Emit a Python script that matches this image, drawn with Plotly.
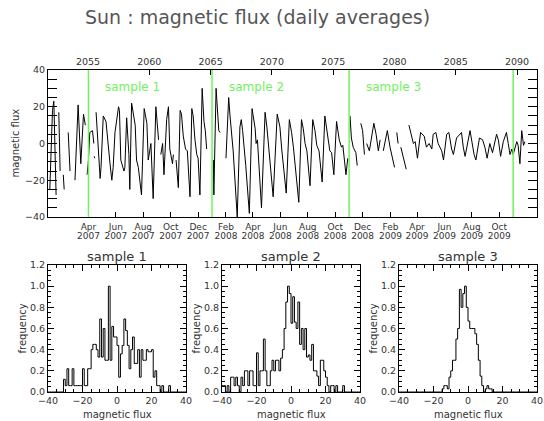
import plotly.graph_objects as go
import pandas as pd

# ---------------- data ----------------
series_start = "2007-01-01"
# days since series_start, and daily-averaged magnetic flux (None = data gap)
day_offsets = [4, 10, 13, 18, 19, 24, 27, 28, 34, 36, 37, 45, 49, 50,
               60, 67, 73, 75, 79, 83, 84, 87, 90, 93, 99, 102, 102, 103, 104, 105,
               107, 114, 116, 118, 123, 129, 132, 138, 142, 145, 149, 157, 159, 162,
               169, 171, 175, 180, 182, 186, 194, 197, 201, 208, 214, 220, 223, 229,
               234, 240, 246, 247, 251, 255, 258, 264, 268, 271, 277, 279, 281, 285, 290,
               294, 297, 301, 306, 310, 316, 320, 323, 327, 331, 334, 338, 343, 347,
               350, 353, 354, 368, 369, 374, 377, 380, 383, 384, 396, 402, 405, 409,
               412, 421, 427, 430, 433, 440, 448, 454, 461, 463, 466, 475, 483, 487,
               492, 501, 510, 516, 520, 530, 537, 542, 546, 558, 564, 568, 572, 576,
               583, 589, 594, 598, 603, 610, 616, 622, 627, 631, 636, 642, 648, 653,
               656, 663, 667, 668, 672, 675, 679, 685, 688, 689, 696, 700, 704, 705,
               709, 715, 725, 730, 735, 739, 740, 746, 750, 755, 761, 767, 771, 772,
               776, 779, 780, 785, 797, 798, 803, 807, 813, 817, 822, 829, 834, 837,
               842, 848, 854, 857, 863, 868, 876, 880, 887, 892, 898, 902, 909, 920,
               924, 928, 939, 943, 948, 952, 960, 967, 972, 977, 983, 989, 998, 1002,
               1007, 1013, 1020, 1024, 1028, 1032, 1035, 1043, 1046, 1050, 1054, 1058,
               1061]
flux = [-25, 18, 23, -28, None, 17, -15, None, -17, -25, None, 6, -15, None,
        -20, 21, -11, 0, 16, 10, None, -17, -9, 6, 7, 0, None, -7, -8, None,
        17, -17, -19, -13, 15, 12, 3, -11, -20, -13, 6, 20, 18, -9,
        -15, -13, 14, -6, -25, 22, 10, -9, -13, -28, 19, 11, -9, 0,
        -30, 20, 2, None, -6, 0, -17, 13, 20, -3, -11, -6, None, -9, -24,
        18, 16, 4, -3, -4, -29, 19, 15, 2, -6, -8, -28, 30, 12,
        7, -3, None, -9, -28, 30, 17, 7, 6, None, -8, 25, 15, 5,
        -4, -40, 9, 13, 7, -12, -38, 19, 8, 0, 2, -35, 17, 9,
        -4, -29, 16, 9, -3, -27, 13, 6, -2, -32, 13, 8, 0, -4,
        -23, 13, 7, -1, -4, -21, 15, 6, -4, -5, -17, 12, 2, -2,
        -1, -17, -8, None, 15, 3, -2, -5, -12, None, 11, 7, -6, None,
        0, -4, 11, 5, -4, 2, None, -4, 1, 7, -2, -9, -13, None,
        6, 0, None, -2, -14, None, 10, 6, 0, 1, -8, 6, 5, 4,
        -2, 0, -3, 5, 6, 0, -4, -9, 5, 6, -3, -6, 3, 6,
        -2, -7, 7, 1, -6, -9, 3, 2, -2, -8, 0, -5, 5, 2,
        -7, 1, 6, 0, -6, -3, -6, 1, -1, -11, 7, -1,
        1]

# sample boundaries (green lines) and their labels
sample_bounds = ["2007-04-01", "2008-01-01", "2008-11-01", "2009-11-01"]
sample_names = ["sample 1", "sample 2", "sample 3"]

# bottom date axis ticks
month_ticks = ["2007-04-01", "2007-06-01", "2007-08-01", "2007-10-01", "2007-12-01",
               "2008-02-01", "2008-04-01", "2008-06-01", "2008-08-01", "2008-10-01",
               "2008-12-01", "2009-02-01", "2009-04-01", "2009-06-01", "2009-08-01",
               "2009-10-01"]
month_labels = ["Apr", "Jun", "Aug", "Oct", "Dec", "Feb", "Apr", "Jun", "Aug", "Oct",
                "Dec", "Feb", "Apr", "Jun", "Aug", "Oct"]
year_labels = ["2007", "2007", "2007", "2007", "2007", "2008", "2008", "2008", "2008",
               "2008", "2008", "2009", "2009", "2009", "2009", "2009"]

# Carrington rotation (top axis)
cr_ticks = [2055, 2060, 2065, 2070, 2075, 2080, 2085, 2090]
cr_ref_number = 2055
cr_ref_date = "2007-03-31"
cr_period_days = 27.2753
date_range = ["2007-01-01", "2009-12-24"]

# histograms: bins of width 1, left edges -40 ... 39
hist_edges = list(range(-40, 41))
freq_s1 = [0, 0, 0, 0, 0, 0, 0, 0, 0,
           0.12, 0.06, 0.22, 0.06, 0.06, 0.22, 0.06, 0.06, 0.06, 0.06, 0.06,
           0.22, 0.06, 0.06, 0.22, 0.22, 0.40, 0.45, 0.45, 0.40, 0.33,
           0.69, 0.33, 0.60, 0.30, 0.30, 1.00, 0.30, 0.62, 0.52, 0.52,
           0.44, 0.14, 0.36, 0.44, 0.69, 0.58, 0.44, 0.22, 0.40, 0.52,
           0.27, 0.27, 0.40, 0.14, 0.40, 0.30, 0.30, 0.40, 0.38, 0.38,
           0.40, 0.14, 0.20, 0.06, 0.06, 0, 0.06, 0, 0, 0, 0.06,
           0, 0, 0, 0, 0, 0, 0, 0, 0]
freq_s2 = [0.06, 0.06, 0, 0.06, 0, 0.14, 0.14, 0.06, 0.14, 0.06,
           0, 0.14, 0.06, 0.20, 0.20, 0.06, 0.20, 0.20, 0.06, 0.06,
           0.37, 0.06, 0.20, 0.20, 0.50, 0.20, 0.06, 0.06, 0.20, 0.30,
           0.20, 0.30, 0.30, 0.20, 0.32, 0.40, 0.60, 0.85, 1.00, 0.93,
           0.65, 0.90, 0.66, 0.60, 0.85, 0.45, 0.60, 0.40, 0.60, 0.33,
           0.35, 0.30, 0.45, 0.20, 0.20, 0.15, 0.06, 0.30, 0.30, 0.20,
           0.14, 0.06, 0, 0.06, 0.06, 0, 0.06, 0, 0, 0,
           0.06, 0, 0, 0, 0, 0, 0, 0, 0, 0]
freq_s3 = [0, 0, 0, 0, 0, 0, 0, 0, 0, 0,
           0, 0, 0, 0, 0, 0, 0, 0, 0, 0,
           0, 0, 0, 0, 0,
           0.03, 0.06, 0.06, 0.03, 0.14, 0.20, 0.30, 0.30, 0.50, 0.60,
           0.97, 0.80, 0.93, 1.00, 0.80, 0.67, 0.60, 0.60, 0.60, 0.55,
           0.45, 0.30, 0.15, 0.06, 0, 0.03, 0.06, 0.03, 0.03,
           0, 0, 0, 0, 0, 0, 0, 0, 0, 0,
           0, 0, 0, 0, 0, 0, 0, 0, 0, 0,
           0, 0, 0, 0, 0, 0]

# ---------------- figure ----------------
W, H = 544, 421
FONT = "DejaVu Sans"
TXT = "#333333"
GREEN = "#72f060"

start = pd.Timestamp(series_start)
dates = [start + pd.Timedelta(days=d) for d in day_offsets]


def to_cr(date_str):
    dt = (pd.Timestamp(date_str) - pd.Timestamp(cr_ref_date)) / pd.Timedelta(days=1)
    return cr_ref_number + dt / cr_period_days


cr_range = [to_cr(date_range[0]), to_cr(date_range[1])]

fig = go.Figure()
fig.add_trace(go.Scatter(x=dates, y=flux, mode="lines", connectgaps=False,
                         line=dict(color="black", width=1), xaxis="x", yaxis="y",
                         showlegend=False, hoverinfo="skip"))
# invisible anchors so the top (Carrington) and year axes get drawn
fig.add_trace(go.Scatter(x=cr_range, y=[0, 0], mode="lines", opacity=0,
                         line=dict(width=0), xaxis="x2", yaxis="y",
                         showlegend=False, hoverinfo="skip"))
fig.add_trace(go.Scatter(x=date_range, y=[0, 0], mode="lines", opacity=0,
                         line=dict(width=0), xaxis="x3", yaxis="y",
                         showlegend=False, hoverinfo="skip"))

hist_sets = [freq_s1, freq_s2, freq_s3]
for i, fr in enumerate(hist_sets):
    n = str(i + 4)
    fig.add_trace(go.Scatter(x=hist_edges, y=list(fr) + [fr[-1]], mode="lines",
                             line=dict(color="black", width=1, shape="hv"),
                             xaxis="x" + n, yaxis="y" + n, showlegend=False,
                             hoverinfo="skip"))


def px(x):
    return x / W


def py(y):
    return 1 - y / H


main_dom_x = [px(48), px(537)]
main_dom_y = [py(217), py(70)]

tick_font = dict(family=FONT, size=9.5, color=TXT)
axis_common = dict(showline=True, linecolor="black", linewidth=1, ticks="inside",
                   tickcolor="black", showgrid=False, zeroline=False, automargin=False,
                   tickfont=tick_font)
date_font = dict(family=FONT, size=9, color=TXT)

layout = dict(
    width=W, height=H, margin=dict(l=0, r=0, t=0, b=0, autoexpand=False),
    paper_bgcolor="white", plot_bgcolor="white",
    font=dict(family=FONT, color=TXT),
    xaxis=dict(domain=main_dom_x, anchor="y", type="date", range=date_range,
               tickvals=month_ticks, ticktext=month_labels, ticklen=5, tickangle=0,
               showline=True, linecolor="black", linewidth=1, ticks="inside",
               tickcolor="black", showgrid=False, zeroline=False, automargin=False,
               ticklabelstandoff=1, tickfont=date_font),
    xaxis2=dict(overlaying="x", anchor="y", side="top", type="linear", tickangle=0,
                range=cr_range, tickvals=cr_ticks, ticklen=5, **axis_common),
    xaxis3=dict(overlaying="x", anchor="y", side="bottom", type="date",
                range=date_range, tickvals=month_ticks, ticktext=year_labels,
                showline=False, ticks="", showgrid=False, zeroline=False,
                automargin=False, ticklabelstandoff=12, tickangle=0,
                tickfont=date_font),
    yaxis=dict(domain=main_dom_y, anchor="x", range=[-40, 40], dtick=20,
               ticklen=9, mirror="allticks",
               minor=dict(dtick=5, ticklen=5, ticks="inside", tickcolor="black"),
               **axis_common),
)

hist_x = [(48, 186), (222, 360), (399, 537)]
hist_y = (392, 265)
for i, (x0, x1) in enumerate(hist_x):
    n = str(i + 4)
    layout["xaxis" + n] = dict(domain=[px(x0), px(x1)], anchor="y" + n, range=[-40, 40],
                               dtick=20, ticklen=6, mirror="allticks", tickangle=0,
                               minor=dict(dtick=5, ticklen=3, ticks="inside", tickcolor="black"),
                               **axis_common)
    layout["yaxis" + n] = dict(domain=[py(hist_y[0]), py(hist_y[1])], anchor="x" + n,
                               range=[0, 1.2], dtick=0.2, tickformat=".1f", ticklen=6,
                               mirror="allticks",
                               minor=dict(dtick=0.05, ticklen=3, ticks="inside", tickcolor="black"),
                               **axis_common)

fig.update_layout(**layout)

label_font = dict(family=FONT, size=10, color=TXT)

# axis titles as annotations
fig.add_annotation(x=px(15), y=(main_dom_y[0] + main_dom_y[1]) / 2, xref="paper", yref="paper",
                   text="magnetic flux", textangle=-90, showarrow=False,
                   xanchor="center", yanchor="middle", font=label_font)
for i, (x0, x1) in enumerate(hist_x):
    fig.add_annotation(x=px((x0 + x1) / 2), y=py(414), xref="paper", yref="paper",
                       text="magnetic flux", showarrow=False,
                       xanchor="center", yanchor="middle", font=label_font)
    fig.add_annotation(x=px(x0 - 26), y=py((hist_y[0] + hist_y[1]) / 2), xref="paper",
                       yref="paper", text="frequency", textangle=-90, showarrow=False,
                       xanchor="center", yanchor="middle", font=label_font)

# green sample boundaries
for d in sample_bounds:
    fig.add_shape(type="line", xref="x", yref="y", x0=d, x1=d, y0=-40, y1=40,
                  line=dict(color=GREEN, width=1.5))
for d, name in zip(sample_bounds[:-1], sample_names):
    fig.add_annotation(x=d, y=31, xref="x", yref="y", text=name, showarrow=False,
                       xanchor="left", xshift=15, yanchor="middle",
                       font=dict(family=FONT, size=12, color=GREEN))

# histogram titles
for i, name in enumerate(sample_names):
    x0, x1 = hist_x[i]
    fig.add_annotation(x=px((x0 + x1) / 2), y=py(256), xref="paper", yref="paper",
                       text=name, showarrow=False, xanchor="center", yanchor="middle",
                       font=dict(family=FONT, size=13, color=TXT))

# main title
fig.add_annotation(x=px(257), y=py(17), xref="paper", yref="paper",
                   text="Sun : magnetic flux (daily averages)", showarrow=False,
                   xanchor="center", yanchor="middle",
                   font=dict(family=FONT, size=19, color="#555555"))

fig.write_html("out.html")
